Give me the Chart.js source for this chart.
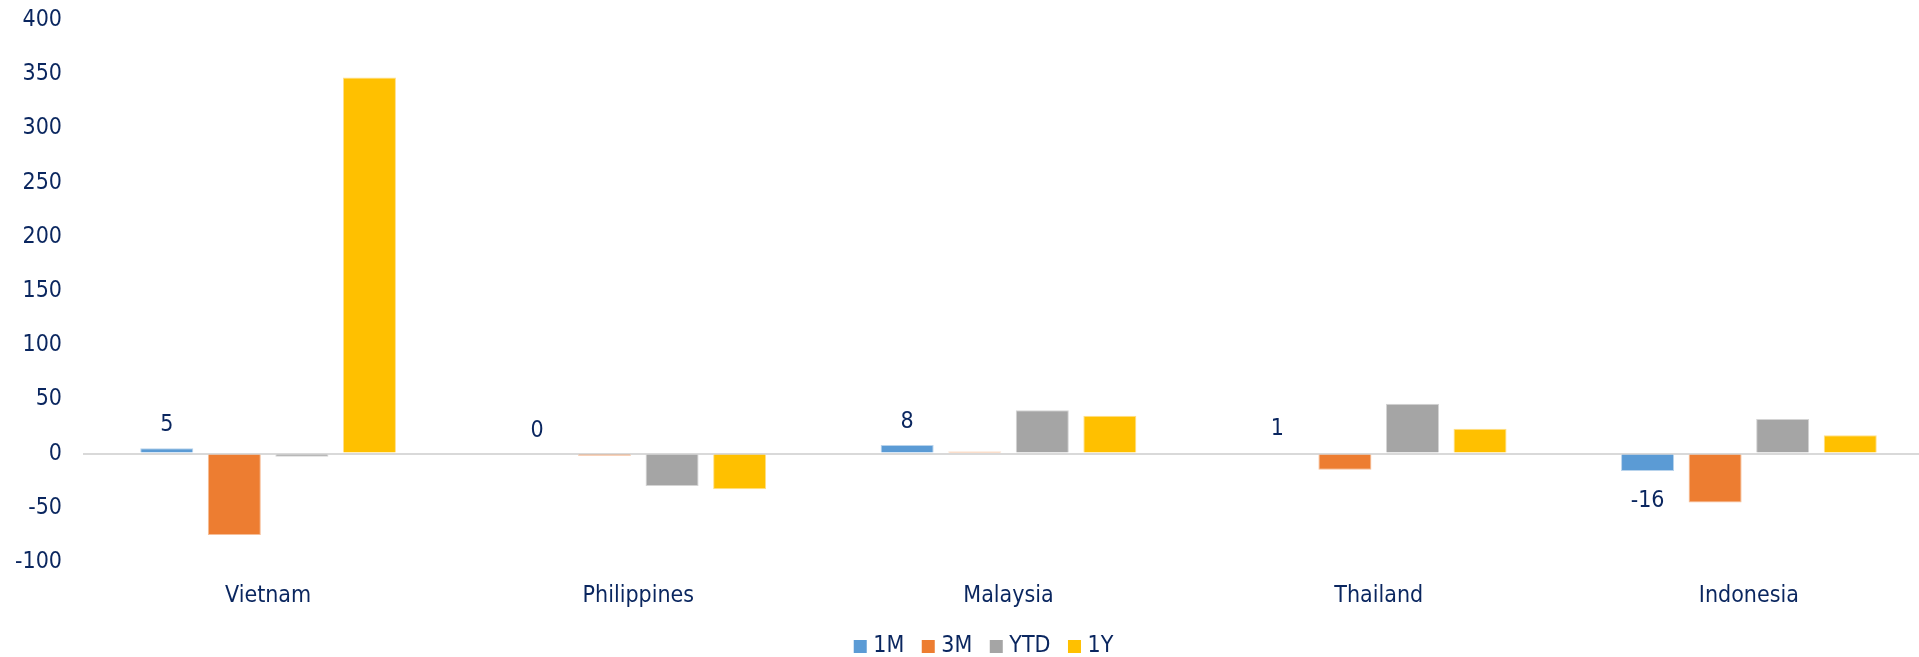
<!DOCTYPE html>
<html>
<head>
<meta charset="utf-8">
<script src="https://cdn.jsdelivr.net/npm/chart.js@4/dist/chart.umd.min.js"></script>
<style>
  html, body { margin: 0; padding: 0; background: #ffffff; overflow: hidden; }
  #wrap { position: relative; width: 1934px; height: 657px; }
</style>
</head>
<body>
<div id="wrap"><canvas id="chart"></canvas></div>
<script>
// Market moves by country over four horizons
const categories = ['Vietnam', 'Philippines', 'Malaysia', 'Thailand', 'Indonesia'];
const seriesNames = ['1M', '3M', 'YTD', '1Y'];
const oneMonth = [5, 0, 8, 1, -16];
const threeMonth = [-75, -2, 2, -15, -45];
const yearToDate = [-3, -30, 40, 46, 32];
const oneYear = [347, -33, 35, 23, 17];
const yTicks = [-100, -50, 0, 50, 100, 150, 200, 250, 300, 350, 400];

const navy = '#0a265f';
const fontFamily = '"DejaVu Sans Condensed", "Liberation Sans", sans-serif';
const fontSize = 23;

const colors = ['#5b9bd5', '#ed7d31', '#a5a5a5', '#ffc000'];
const edges = ['#b8d3ec', '#f6be98', '#d4d4d4', '#ffe08a'];
const values = [oneMonth, threeMonth, yearToDate, oneYear];

// Value labels above/below the 1M bars
const oneMonthLabels = {
  id: 'oneMonthLabels',
  afterDatasetsDraw(chart) {
    const meta = chart.getDatasetMeta(0);
    const ctx = chart.ctx;
    ctx.save();
    ctx.font = fontSize + 'px ' + fontFamily;
    ctx.fillStyle = navy;
    ctx.textAlign = 'center';
    ctx.textBaseline = 'middle';
    meta.data.forEach((bar, i) => {
      const v = oneMonth[i];
      const y = v >= 0 ? bar.y - 23 : bar.y + 30;
      ctx.fillText(String(v), bar.x, y);
    });
    ctx.restore();
  }
};

// Legend row beneath the category labels
const legendRow = {
  id: 'legendRow',
  afterDraw(chart) {
    const ctx = chart.ctx;
    const box = 13, gap = 6.5, spacing = 17.5;
    const centerX = 983.5, centerY = 646.5;
    ctx.save();
    ctx.font = fontSize + 'px ' + fontFamily;
    const widths = seriesNames.map(n => ctx.measureText(n).width);
    const total = widths.reduce((a, w) => a + box + gap + w, 0) + spacing * (seriesNames.length - 1);
    let x = centerX - total / 2;
    ctx.textBaseline = 'middle';
    ctx.textAlign = 'left';
    seriesNames.forEach((name, k) => {
      ctx.fillStyle = colors[k];
      ctx.fillRect(x, centerY - box / 2, box, box);
      ctx.fillStyle = navy;
      ctx.fillText(name, x + box + gap, centerY);
      x += box + gap + widths[k] + spacing;
    });
    ctx.restore();
  }
};

new Chart(document.getElementById('chart'), {
  type: 'bar',
  data: {
    labels: categories,
    datasets: seriesNames.map((name, k) => ({
      label: name,
      data: values[k],
      backgroundColor: colors[k],
      borderColor: edges[k],
      borderWidth: 1,
      categoryPercentage: 0.73,
      barPercentage: 0.785
    }))
  },
  options: {
    responsive: true,
    maintainAspectRatio: false,
    animation: false,
    layout: { padding: { top: 20, left: 0, right: 0, bottom: 0 } },
    plugins: {
      tooltip: { enabled: false },
      legend: { display: false }
    },
    scales: {
      x: {
        grid: { display: false, drawTicks: false },
        border: { display: false },
        afterFit(scale) { scale.height = 95; },
        ticks: { color: navy, padding: 20.5, font: { family: fontFamily, size: fontSize } }
      },
      y: {
        min: -100,
        max: 400,
        afterBuildTicks(scale) { scale.ticks = yTicks.map(v => ({ value: v })); },
        afterFit(scale) {
          scale.width = 83;
          scale.paddingTop = 0;
          scale.paddingBottom = 0;
        },
        border: { display: false },
        grid: {
          drawTicks: false,
          color: c => (c.tick && c.tick.value === 0 ? '#d9d9d9' : 'rgba(0,0,0,0)'),
          lineWidth: c => (c.tick && c.tick.value === 0 ? 2 : 0)
        },
        ticks: { color: navy, padding: 21, font: { family: fontFamily, size: fontSize } }
      }
    }
  },
  plugins: [oneMonthLabels, legendRow]
});
</script>
</body>
</html>
